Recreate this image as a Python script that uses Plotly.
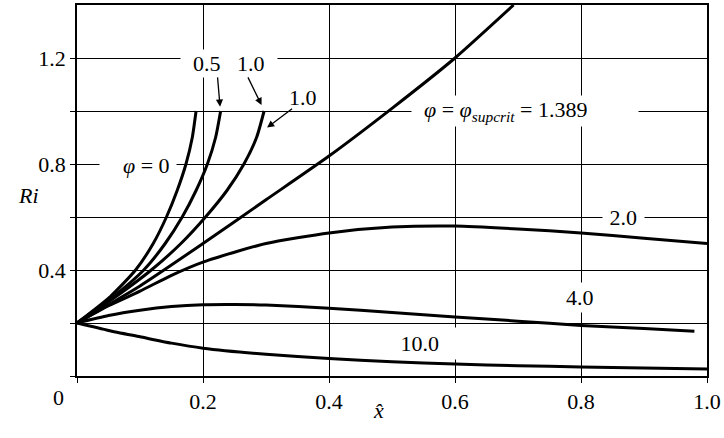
import plotly.graph_objects as go

# Ri(x̂) curves for different values of φ
# steep curves (φ = 0, 0.5, 1.0) sampled at fixed Ri levels
ri_steep = [0.2, 0.3, 0.4, 0.5, 0.6, 0.7, 0.8, 0.9, 1.0]
x_phi0 = [0, 0.053, 0.093, 0.121, 0.142, 0.159, 0.173, 0.183, 0.189]
x_phi05 = [0, 0.058, 0.106, 0.140, 0.167, 0.189, 0.207, 0.220, 0.228]
x_phi1 = [0, 0.062, 0.118, 0.165, 0.204, 0.238, 0.265, 0.285, 0.297]

# supercritical curve φ = 1.389
x_sup = [0, 0.1, 0.2, 0.3, 0.4, 0.5, 0.6, 0.693]
ri_sup = [0.2, 0.34, 0.50, 0.665, 0.83, 1.01, 1.20, 1.40]

# φ = 2.0
x_phi2 = [0, 0.05, 0.1, 0.15, 0.2, 0.3, 0.4, 0.5, 0.6, 0.7, 0.8, 0.9, 1.0]
ri_phi2 = [0.2, 0.265, 0.32, 0.38, 0.43, 0.50, 0.54, 0.562, 0.566, 0.555, 0.54, 0.52, 0.50]

# φ = 4.0
x_phi4 = [0, 0.05, 0.1, 0.15, 0.2, 0.25, 0.3, 0.4, 0.5, 0.6, 0.7, 0.8, 0.9, 0.98]
ri_phi4 = [0.2, 0.228, 0.248, 0.262, 0.269, 0.27, 0.268, 0.256, 0.24, 0.223, 0.207, 0.191, 0.179, 0.169]

# φ = 10.0
x_phi10 = [0, 0.05, 0.1, 0.15, 0.2, 0.3, 0.4, 0.5, 0.6, 0.7, 0.8, 0.9, 1.0]
ri_phi10 = [0.2, 0.172, 0.148, 0.124, 0.105, 0.082, 0.066, 0.054, 0.045, 0.039, 0.034, 0.030, 0.026]

x_ticks = [0, 0.2, 0.4, 0.6, 0.8, 1.0]
x_ticktext = ["", "0.2", "0.4", "0.6", "0.8", "1.0"]
y_ticks = [0, 0.2, 0.4, 0.6, 0.8, 1.0, 1.2]
y_ticktext = ["", "", "0.4", "", "0.8", "", "1.2"]

FONT = "Times New Roman, Liberation Serif, serif"
FS = 22
NB = "\u00a0"

fig = go.Figure()
line = dict(color="black", width=3, shape="spline", smoothing=0.6)
for xs, ys in [(x_phi0, ri_steep), (x_phi05, ri_steep), (x_phi1, ri_steep),
               (x_sup, ri_sup), (x_phi2, ri_phi2), (x_phi4, ri_phi4),
               (x_phi10, ri_phi10)]:
    fig.add_trace(go.Scatter(x=xs, y=ys, mode="lines", line=line,
                             showlegend=False, hoverinfo="skip"))

ann = []
def label(text, x, y, xanchor="center", bg=True, pad=1):
    ann.append(dict(text=text, x=x, y=y, xref="x", yref="y", showarrow=False,
                    xanchor=xanchor, yanchor="middle",
                    bgcolor="white" if bg else "rgba(0,0,0,0)",
                    borderpad=pad, font=dict(family=FONT, size=FS, color="black")))

label(NB * 2 + "0.5" + NB * 3 + "1.0" + NB * 2, 0.2413, 1.18)
label("1.0", 0.358, 1.052, bg=False)
label(NB * 4 + "<i>φ</i> = 0" + NB, 0.1593, 0.795, xanchor="right")
label(NB * 2 + "<i>φ</i> = <i>φ<sub>supcrit</sub></i> = 1.389" + NB * 9, 0.530, 1.0,
      xanchor="left")
label(NB + "2.0" + NB, 0.868, 0.6)
label("4.0", 0.798, 0.295, pad=2)
label(NB + "10.0" + NB * 5, 0.498, 0.1225, xanchor="left", pad=3)

# arrows pointing from the labels to the curve ends
for tail, tip in [((0.2229, 1.1325), (0.2271, 1.0163)),
                  ((0.2702, 1.1325), (0.2929, 1.0226)),
                  ((0.3438, 1.0125), (0.3017, 0.9375))]:
    ann.append(dict(text="", x=tip[0], y=tip[1], ax=tail[0], ay=tail[1],
                    xref="x", yref="y", axref="x", ayref="y", showarrow=True,
                    arrowhead=2, arrowsize=1.1, arrowwidth=1.3, arrowcolor="black",
                    standoff=0, startstandoff=0))

# shared origin label, axis titles
ann.append(dict(text="0", x=0, y=0, xref="x", yref="y", showarrow=False,
                xshift=-19, yshift=-21, font=dict(family=FONT, size=FS, color="black")))
ann.append(dict(text="<i>Ri</i>", x=0, y=0.6825, xref="paper", yref="y",
                showarrow=False, xshift=-61, font=dict(family=FONT, size=FS, color="black")))
ann.append(dict(text="<i>x\u0302</i>", x=0.478, y=0, xref="x", yref="paper",
                showarrow=False, yshift=-49, font=dict(family=FONT, size=FS, color="black")))

axis_common = dict(showline=True, linecolor="black", linewidth=1.5, mirror=True,
                   showgrid=True, gridcolor="black", gridwidth=1,
                   ticks="outside", ticklen=5, tickcolor="black", tickwidth=1,
                   zeroline=False, ticklabeloverflow="allow",
                   tickfont=dict(family=FONT, size=FS, color="black"))

fig.update_layout(
    width=724, height=438,
    margin=dict(l=77, r=13, t=3, b=62),
    paper_bgcolor="white", plot_bgcolor="white",
    xaxis=dict(range=[-0.000001, 1.000001], tickvals=x_ticks, ticktext=x_ticktext,
               **axis_common),
    yaxis=dict(range=[0, 1.4], tickvals=y_ticks, ticktext=y_ticktext, **axis_common),
    annotations=ann,
    font=dict(family=FONT, size=FS, color="black"),
)

fig.write_html("out.html")
